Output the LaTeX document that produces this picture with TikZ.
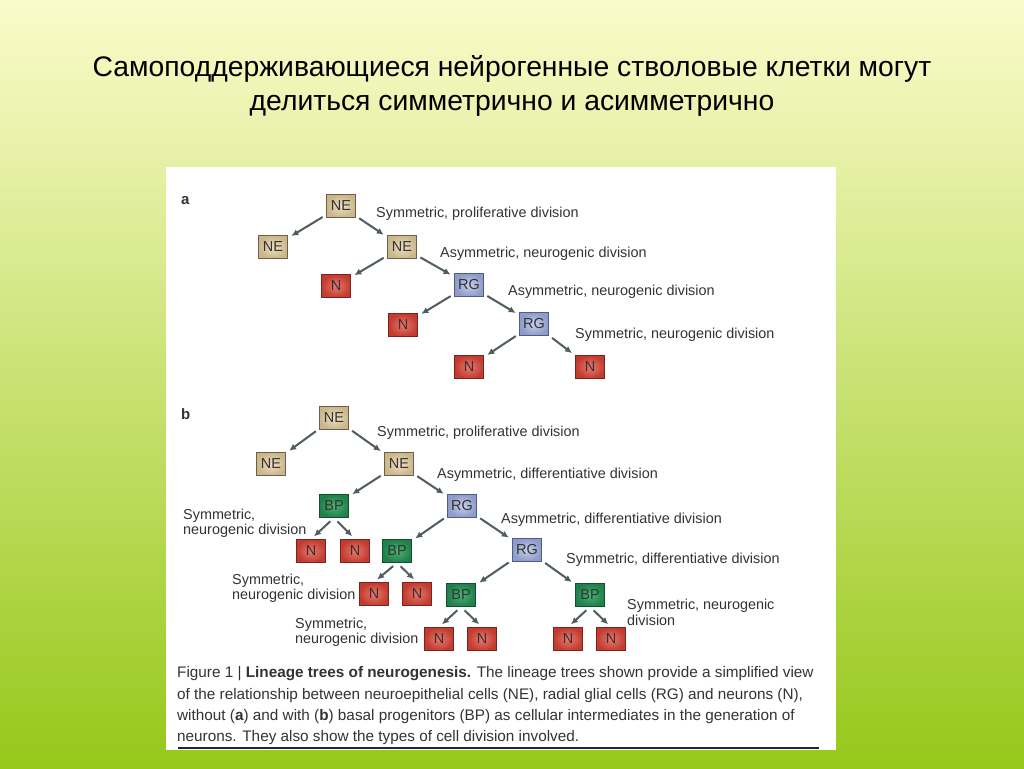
\documentclass[tikz,border=0pt]{standalone}
\usepackage{fontspec}
\setmainfont{Liberation Sans}
\usetikzlibrary{arrows.meta}

\definecolor{bgTop}{HTML}{FBFBCB}
\definecolor{bgMid}{HTML}{E0ED9A}
\definecolor{bgBot}{HTML}{96C81A}
\definecolor{txtgray}{HTML}{333333}
\definecolor{arrowgray}{HTML}{4F5D60}
\definecolor{neIn}{HTML}{EDDFC0}
\definecolor{neOut}{HTML}{CBB68C}
\definecolor{neEdge}{HTML}{6E6046}
\definecolor{nIn}{HTML}{E8786C}
\definecolor{nOut}{HTML}{C23B30}
\definecolor{nEdge}{HTML}{7A2420}
\definecolor{rgIn}{HTML}{C6CEEA}
\definecolor{rgOut}{HTML}{8F9BC8}
\definecolor{rgEdge}{HTML}{4F5C8A}
\definecolor{bpIn}{HTML}{4CB274}
\definecolor{bpOut}{HTML}{1F804B}
\definecolor{bpEdge}{HTML}{14502E}

\begin{document}
\begin{tikzpicture}[x=1pt,y=-1pt,
    cell/.style={draw, line width=.8pt, minimum width=29pt, minimum height=23pt,
      inner sep=0pt, font=\fontsize{14.5}{14.5}\selectfont, text=txtgray},
    cellNE/.style={cell, draw=neEdge, inner color=neIn, outer color=neOut},
    cellN/.style={cell, draw=nEdge, inner color=nIn, outer color=nOut},
    cellRG/.style={cell, draw=rgEdge, inner color=rgIn, outer color=rgOut},
    cellBP/.style={cell, draw=bpEdge, inner color=bpIn, outer color=bpOut},
    div/.style={-{Latex[length=7pt,width=6.5pt]}, line width=2pt, draw=arrowgray,
      shorten <=4pt, shorten >=4pt},
    lbl/.style={anchor=base west, inner sep=0pt, text=txtgray,
      font=\fontsize{14.4}{16}\selectfont},
    capline/.style={anchor=base west, inner sep=0pt, text=txtgray,
      font=\fontsize{15.3}{17}\selectfont},
    ttl/.style={anchor=base, inner sep=0pt, text=black,
      font=\fontsize{28.3}{32}\selectfont}]

    % slide background and white figure panel
    \useasboundingbox (0,0) rectangle (1024,768);
    \shade[top color=bgTop, middle color=bgMid, bottom color=bgBot] (0,0) rectangle (1024,768);
    \fill[white] (166,167) rectangle (836,750);

    % title
    \node[ttl] (t1) at (512,76) {Самоподдерживающиеся нейрогенные стволовые клетки могут};
    \node[ttl] (t2) at (512,110) {делиться симметрично и асимметрично};

    % panel a
    \node[anchor=base west, inner sep=0pt, text=txtgray, font=\fontsize{15}{15}\selectfont\bfseries] (pa) at (181,204) {a};
    \foreach \nm/\x/\y in {a1/341/206, a2/273/247, a3/402/247}
      \node[cellNE] (\nm) at (\x,\y) {NE};
    \foreach \nm/\x/\y in {a4/336/286, a6/403/325, a8/469/367, a9/590/367}
      \node[cellN] (\nm) at (\x,\y) {N};
    \foreach \nm/\x/\y in {a5/469/285, a7/534/324}
      \node[cellRG] (\nm) at (\x,\y) {RG};

    \foreach \p/\c in {a1/a2, a1/a3, a3/a4, a3/a5, a5/a6, a5/a7, a7/a8, a7/a9}
      \draw[div] (\p) -- (\c);

    \node[lbl] (la1) at (376,217) {Symmetric, proliferative division};
    \node[lbl] (la2) at (440,257) {Asymmetric, neurogenic division};
    \node[lbl] (la3) at (508,295) {Asymmetric, neurogenic division};
    \node[lbl] (la4) at (575,338) {Symmetric, neurogenic division};

    % panel b
    \node[anchor=base west, inner sep=0pt, text=txtgray, font=\fontsize{15}{15}\selectfont\bfseries] (pb) at (181,419) {b};
    \foreach \nm/\x/\y in {b1/334/418, b2/271/464, b3/399/464}
      \node[cellNE] (\nm) at (\x,\y) {NE};
    \foreach \nm/\x/\y in {b4/334/506, b8/397/551, b12/461/595, b13/590/595}
      \node[cellBP] (\nm) at (\x,\y) {BP};
    \foreach \nm/\x/\y in {b5/462/506, b9/527/550}
      \node[cellRG] (\nm) at (\x,\y) {RG};
    \foreach \nm/\x/\y in {b6/311/551, b7/355/551, b10/374/594, b11/417/594,
                           b14/439/639, b15/482/639, b16/568/639, b17/611/639}
      \node[cellN] (\nm) at (\x,\y) {N};

    \foreach \p/\c in {b1/b2, b1/b3, b3/b4, b3/b5, b5/b8, b5/b9, b9/b12, b9/b13}
      \draw[div] (\p) -- (\c);
    % short splits of the basal progenitors
    \foreach \p/\c in {b4/b6, b4/b7, b8/b10, b8/b11, b12/b14, b12/b15, b13/b16, b13/b17}
      \draw[div, shorten <=5pt, shorten >=4pt] (\p.south) -- (\c.north);

    \node[lbl] (lb1) at (377,436) {Symmetric, proliferative division};
    \node[lbl] (lb2) at (437,478) {Asymmetric, differentiative division};
    \node[lbl] (lb3) at (501,523) {Asymmetric, differentiative division};
    \node[lbl] (lb4) at (566,563) {Symmetric, differentiative division};
    \node[lbl] (lb5) at (627,609) {Symmetric, neurogenic};
    \node[lbl] (lb5b) at (627,625) {division};
    \node[lbl] (lb6) at (183,519) {Symmetric,};
    \node[lbl] (lb6b) at (183,534) {neurogenic division};
    \node[lbl] (lb7) at (232,584) {Symmetric,};
    \node[lbl] (lb7b) at (232,599) {neurogenic division};
    \node[lbl] (lb8) at (295,628) {Symmetric,};
    \node[lbl] (lb8b) at (295,643) {neurogenic division};

    % figure caption
    \node[capline] (c1) at (177,677) {Figure 1 | \textbf{Lineage trees of neurogenesis.} The lineage trees shown provide a simplified view};
    \node[capline] (c2) at (177,699) {of the relationship between neuroepithelial cells (NE), radial glial cells (RG) and neurons (N),};
    \node[capline] (c3) at (177,720) {without (\textbf{a}) and with (\textbf{b}) basal progenitors (BP) as cellular intermediates in the generation of};
    \node[capline] (c4) at (177,741) {neurons. They also show the types of cell division involved.};
    \draw[line width=1.6pt, color=black!85] (178,748) -- (819,748);

  \end{tikzpicture}
\end{document}
